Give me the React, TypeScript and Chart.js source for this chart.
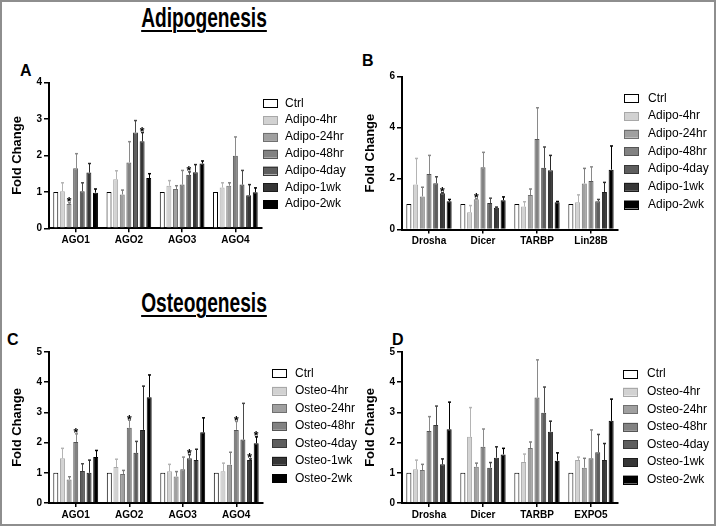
import React, { useEffect, useRef } from 'react';
import { Chart, registerables } from 'chart.js';

Chart.register(...registerables);

const W = 717;
const H = 527;
const FONT = '"Liberation Sans", Arial, Helvetica, sans-serif';

// ---------- categories & series ----------
const agoCategories = ['AGO1', 'AGO2', 'AGO3', 'AGO4'];
const adipoFactorCategories = ['Drosha', 'Dicer', 'TARBP', 'Lin28B'];
const osteoFactorCategories = ['Drosha', 'Dicer', 'TARBP', 'EXPO5'];

const adipoSeries = ['Ctrl', 'Adipo-4hr', 'Adipo-24hr', 'Adipo-48hr', 'Adipo-4day', 'Adipo-1wk', 'Adipo-2wk'];
const osteoSeries = ['Ctrl', 'Osteo-4hr', 'Osteo-24hr', 'Osteo-48hr', 'Osteo-4day', 'Osteo-1wk', 'Osteo-2wk'];

const seriesFill = ['#ffffff', '#d2d2d2', '#a0a0a0', '#828282', '#5e5e5e', '#363636', '#000000'];
const seriesBorder = ['#000000', '#a8a8a8', '#707070', '#555555', '#383838', '#1c1c1c', '#000000'];
const seriesErr = ['#000000', '#b4b4b4', '#808080', '#8a8a8a', '#4a4a4a', '#2a2a2a', '#000000'];

// ---------- Panel A: Adipogenesis, AGO ----------
const adipoAgoValues = [
  [1, 1, 1, 1],
  [1.02, 1.35, 1.17, 1.12],
  [0.67, 0.93, 1.08, 1.17],
  [1.65, 1.81, 1.2, 1.99],
  [1.02, 2.63, 1.47, 1.2],
  [1.53, 2.39, 1.54, 0.91],
  [0.98, 1.38, 1.78, 0.99],
];
const adipoAgoErrors = [
  [1, 1, 1, 1],
  [1.25, 1.58, 1.31, 1.25],
  [0.7, 1.05, 1.17, 1.25],
  [2.05, 2.38, 1.59, 2.51],
  [1.25, 2.96, 1.55, 1.59],
  [1.78, 2.63, 1.75, 1.2],
  [1.08, 1.5, 1.85, 1.11],
];
const adipoAgoSig = [[2, 0], [5, 1], [4, 2]];

// ---------- Panel B: Adipogenesis, processing factors ----------
const adipoFactorValues = [
  [1, 1, 1, 1],
  [1.77, 0.68, 0.9, 1.07],
  [1.3, 1.19, 1.35, 1.81],
  [2.18, 2.44, 3.55, 1.9],
  [1.82, 1.04, 2.42, 1.11],
  [1.42, 0.85, 2.33, 1.47],
  [1.11, 1.15, 1.07, 2.35],
];
const adipoFactorErrors = [
  [1, 1, 1, 1],
  [2.79, 0.94, 1.09, 1.36],
  [1.66, 1.21, 1.59, 2.4],
  [2.91, 3.03, 4.78, 2.46],
  [2.07, 1.23, 3.24, 1.18],
  [1.44, 0.88, 2.91, 1.85],
  [1.18, 1.28, 1.1, 3.28],
];
const adipoFactorSig = [[5, 0], [2, 1]];

// ---------- Panel C: Osteogenesis, AGO ----------
const osteoAgoValues = [
  [1, 1, 1, 1],
  [1.48, 1.19, 1.05, 1.05],
  [0.78, 0.96, 0.88, 1.27],
  [2.02, 2.49, 1.12, 2.42],
  [1.06, 1.66, 1.48, 2.1],
  [1.0, 2.42, 1.42, 1.42],
  [1.52, 3.5, 2.34, 1.98],
];
const osteoAgoErrors = [
  [1, 1, 1, 1],
  [1.81, 1.45, 1.28, 1.32],
  [0.87, 1.08, 1.04, 1.68],
  [2.29, 2.74, 1.52, 2.7],
  [1.3, 2.04, 1.6, 3.3],
  [1.42, 3.87, 1.78, 1.46],
  [1.74, 4.24, 2.82, 2.19],
];
const osteoAgoSig = [[3, 0], [3, 1], [4, 2], [3, 3], [5, 3], [6, 3]];

// ---------- Panel D: Osteogenesis, processing factors ----------
const osteoFactorValues = [
  [1, 1, 1, 1],
  [1.12, 2.19, 1.36, 1.42],
  [1.09, 1.2, 1.82, 1.17],
  [2.38, 1.86, 3.49, 1.48],
  [2.58, 1.17, 2.99, 1.68],
  [1.28, 1.5, 2.36, 1.42],
  [2.44, 1.61, 1.4, 2.72],
];
const osteoFactorErrors = [
  [1, 1, 1, 1],
  [1.42, 3.16, 1.62, 1.52],
  [1.28, 1.32, 2.02, 1.48],
  [2.86, 2.45, 4.74, 2.42],
  [3.21, 1.34, 3.84, 2.27],
  [1.46, 1.86, 2.71, 1.97],
  [3.34, 1.81, 1.66, 3.44],
];
const osteoFactorSig: number[][] = [];

// ---------- layout ----------
const Y_W = 44;
const X_H = 20;

type PanelCfg = {
  categories: string[];
  series: string[];
  values: number[][];
  errors: number[][];
  sig: number[][];
  yMax: number;
  step: number;
  area: { left: number; top: number; right: number; bottom: number };
  legend: { boxX: number; textX: number; y0: number; dy: number };
};

const panels: PanelCfg[] = [
  {
    categories: agoCategories, series: adipoSeries, values: adipoAgoValues, errors: adipoAgoErrors, sig: adipoAgoSig,
    yMax: 4, step: 1,
    area: { left: 49, top: 82.7, right: 262, bottom: 228.3 },
    legend: { boxX: 263, textX: 285, y0: 103.3, dy: 16.8 },
  },
  {
    categories: adipoFactorCategories, series: adipoSeries, values: adipoFactorValues, errors: adipoFactorErrors, sig: adipoFactorSig,
    yMax: 6, step: 2,
    area: { left: 402, top: 76.7, right: 618, bottom: 229.5 },
    legend: { boxX: 624, textX: 648, y0: 98.3, dy: 17.7 },
  },
  {
    categories: agoCategories, series: osteoSeries, values: osteoAgoValues, errors: osteoAgoErrors, sig: osteoAgoSig,
    yMax: 5, step: 1,
    area: { left: 49, top: 352, right: 263, bottom: 503 },
    legend: { boxX: 272, textX: 295, y0: 373.3, dy: 17.5 },
  },
  {
    categories: osteoFactorCategories, series: osteoSeries, values: osteoFactorValues, errors: osteoFactorErrors, sig: osteoFactorSig,
    yMax: 5, step: 1,
    area: { left: 402, top: 352, right: 618, bottom: 503 },
    legend: { boxX: 623, textX: 647, y0: 374, dy: 17.6 },
  },
];

function buildConfig(p: PanelCfg): any {
  const overlay = {
    id: 'overlay',
    afterDatasetsDraw(chart: any) {
      const ctx = chart.ctx;
      const ys = chart.scales.y;
      ctx.save();
      chart.data.datasets.forEach((ds: any, i: number) => {
        const meta = chart.getDatasetMeta(i);
        meta.data.forEach((bar: any, j: number) => {
          const e = p.errors[i][j];
          const v = p.values[i][j];
          if (e <= v) return;
          const yt = ys.getPixelForValue(e);
          const x = Math.round(bar.x) + 0.5;
          ctx.strokeStyle = seriesErr[i];
          ctx.lineWidth = 1;
          ctx.beginPath();
          ctx.moveTo(x, bar.y);
          ctx.lineTo(x, yt);
          ctx.stroke();
          ctx.lineWidth = 1.5;
          ctx.beginPath();
          ctx.moveTo(x - 1.5, yt);
          ctx.lineTo(x + 1.5, yt);
          ctx.stroke();
        });
      });
      ctx.fillStyle = '#000';
      ctx.font = `bold 12px ${FONT}`;
      ctx.textAlign = 'center';
      ctx.textBaseline = 'alphabetic';
      p.sig.forEach(([si, ci]) => {
        const bar = chart.getDatasetMeta(si).data[ci];
        const top = ys.getPixelForValue(Math.max(p.errors[si][ci], p.values[si][ci]));
        ctx.fillText('*', bar.x, top + 3.5);
      });
      ctx.restore();
    },
    afterDraw(chart: any) {
      const ctx = chart.ctx;
      const L = p.legend;
      ctx.save();
      ctx.font = `12px ${FONT}`;
      ctx.textBaseline = 'middle';
      ctx.textAlign = 'left';
      p.series.forEach((name, i) => {
        const y = L.y0 + i * L.dy;
        ctx.fillStyle = seriesFill[i];
        ctx.fillRect(L.boxX, y - 4, 15, 8);
        ctx.strokeStyle = seriesBorder[i];
        ctx.lineWidth = 1;
        ctx.strokeRect(L.boxX + 0.5, Math.round(y - 4) + 0.5, 14, 8);
        ctx.fillStyle = '#000';
        ctx.fillText(name, L.textX, y);
      });
      ctx.restore();
    },
  };

  return {
    type: 'bar',
    data: {
      labels: p.categories,
      datasets: p.series.map((name, i) => ({
        label: name,
        data: p.values[i],
        backgroundColor: seriesFill[i],
        borderColor: seriesBorder[i],
        borderWidth: 1,
        categoryPercentage: 0.87,
        barPercentage: 0.75,
      })),
    },
    options: {
      animation: false,
      responsive: false,
      maintainAspectRatio: false,
      devicePixelRatio: 1,
      events: [],
      layout: {
        padding: {
          left: p.area.left - Y_W,
          top: p.area.top,
          right: W - p.area.right,
          bottom: H - p.area.bottom - X_H,
        },
      },
      plugins: {
        legend: { display: false },
        tooltip: { enabled: false },
        title: { display: false },
      },
      scales: {
        x: {
          type: 'category',
          offset: true,
          grid: { offset: false, drawOnChartArea: false, drawTicks: true, tickLength: 4, color: '#000', lineWidth: 1.5 },
          border: { color: '#000', width: 2 },
          ticks: { color: '#000', font: { family: FONT, size: 10, weight: 'bold' }, padding: 2, maxRotation: 0, autoSkip: false },
          afterFit: (s: any) => { s.height = X_H; },
        },
        y: {
          min: 0,
          max: p.yMax,
          ticks: { stepSize: p.step, color: '#000', font: { family: FONT, size: 10, weight: 'bold' }, padding: 2 },
          grid: { drawOnChartArea: false, drawTicks: true, tickLength: 5, color: '#000', lineWidth: 1.5 },
          border: { color: '#000', width: 2 },
          title: {
            display: true,
            text: 'Fold Change',
            color: '#000',
            font: { family: FONT, size: 13, weight: 'bold' },
            padding: { top: 5, bottom: 0 },
          },
          afterFit: (s: any) => { s.width = Y_W; },
        },
      },
    },
    plugins: [overlay],
  };
}

function Panel({ cfg }: { cfg: PanelCfg }) {
  const ref = useRef<HTMLCanvasElement | null>(null);
  useEffect(() => {
    if (!ref.current) return;
    const chart = new Chart(ref.current, buildConfig(cfg));
    return () => chart.destroy();
  }, [cfg]);
  return <canvas ref={ref} width={W} height={H} style={{ position: 'absolute', left: 0, top: 0 }} />;
}

const titleStyle = (top: number): React.CSSProperties => ({
  position: 'absolute',
  left: 204,
  top,
  fontFamily: FONT,
  fontWeight: 'bold',
  fontSize: 27,
  lineHeight: 1,
  whiteSpace: 'nowrap',
  textDecoration: 'underline',
  textDecorationThickness: '2px',
  textUnderlineOffset: '3px',
  transform: 'translateX(-50%) scaleX(0.71)',
  color: '#000',
});

const letterStyle = (left: number, top: number): React.CSSProperties => ({
  position: 'absolute',
  left,
  top,
  fontFamily: FONT,
  fontWeight: 'bold',
  fontSize: 16,
  lineHeight: 1,
  color: '#000',
});

export default function App() {
  return (
    <div style={{ position: 'absolute', left: 0, top: 0, width: W, height: H, background: '#fff', overflow: 'hidden' }}>
      <div style={{ position: 'absolute', left: 0, top: 0, width: 716, height: 526, boxSizing: 'border-box', border: '2px solid #8e8e8e' }} />
      <div style={titleStyle(5)}>Adipogenesis</div>
      <div style={titleStyle(290)}>Osteogenesis</div>
      <div style={letterStyle(20, 62.5)}>A</div>
      <div style={letterStyle(362, 52.5)}>B</div>
      <div style={letterStyle(7, 331.5)}>C</div>
      <div style={letterStyle(392, 331.5)}>D</div>
      {panels.map((p, i) => (
        <Panel key={i} cfg={p} />
      ))}
    </div>
  );
}
